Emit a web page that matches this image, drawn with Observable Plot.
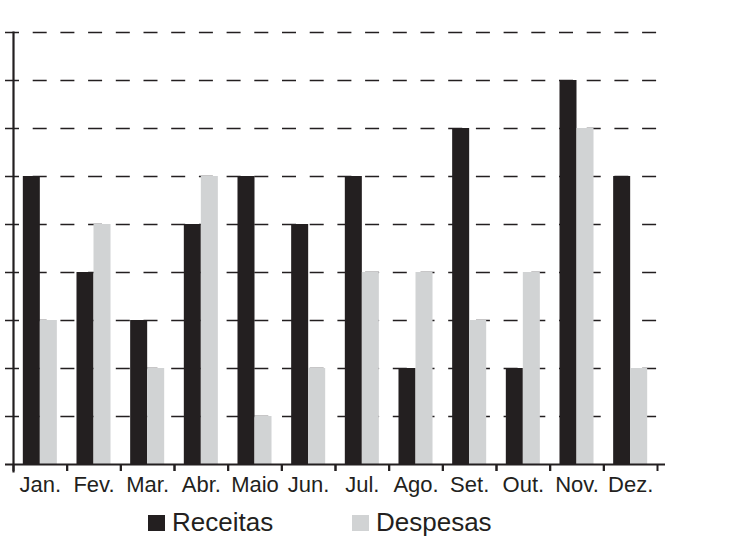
<!DOCTYPE html>
<html>
<head>
<meta charset="utf-8">
<script src="https://cdn.jsdelivr.net/npm/d3@7"></script>
<script src="https://cdn.jsdelivr.net/npm/@observablehq/plot@0.6"></script>
<style>
  body { margin: 0; background: #fff; font-family: "Liberation Sans", Arial, sans-serif; }
  #wrap { position: relative; width: 753px; height: 553px; }
  .leg { position: absolute; display: flex; align-items: center; font-size: 26px; color: #231f20; }
  .sw { width: 17px; height: 16px; margin-right: 7px; }
</style>
</head>
<body>
<div id="wrap">
  <div id="chart"></div>
  <div class="leg" style="left:148px; top:507px;"><span class="sw" style="background:#231f20"></span>Receitas</div>
  <div class="leg" style="left:352px; top:507px;"><span class="sw" style="background:#d1d3d4"></span>Despesas</div>
</div>
<script>
const months = ["Jan.", "Fev.", "Mar.", "Abr.", "Maio", "Jun.", "Jul.", "Ago.", "Set.", "Out.", "Nov.", "Dez."];
const receitas = [6, 4, 3, 5, 6, 5, 6, 2, 7, 2, 8, 6];
const despesas = [3, 5, 2, 6, 1, 2, 4, 4, 3, 4, 7, 2];
const gridValues = [1, 2, 3, 4, 5, 6, 7, 8, 9];

const recData = months.map((m, i) => ({month: m, value: receitas[i]}));
const desData = months.map((m, i) => ({month: m, value: despesas[i]}));

const marginLeft = 13, marginRight = 96, W = 753;
const step = (W - marginLeft - marginRight) / months.length;
const bw = step * 0.634;

const chart = Plot.plot({
  width: W,
  height: 500,
  marginLeft,
  marginRight,
  marginTop: 32,
  marginBottom: 36,
  style: {fontFamily: "Liberation Sans, Arial, sans-serif", fontSize: "22px", color: "#231f20", background: "#fff"},
  x: {domain: months, paddingInner: 0.366, paddingOuter: 0.183, round: false, axis: null, label: null},
  y: {domain: [0, 9], axis: null},
  marks: [
    Plot.gridY(gridValues, {stroke: "#231f20", strokeOpacity: 1, strokeWidth: 1.6, strokeDasharray: "14,13.7", insetLeft: -8, insetRight: -1}),
    Plot.barY(recData, {x: "month", y: "value", fill: "#231f20", insetRight: bw / 2}),
    Plot.barY(desData, {x: "month", y: "value", fill: "#d1d3d4", insetLeft: bw / 2}),
    Plot.ruleY([0], {stroke: "#231f20", strokeWidth: 2.2, insetLeft: -8, insetRight: -8}),
    Plot.frame({anchor: "left", stroke: "#231f20", strokeWidth: 2.2, insetBottom: -7}),
    Plot.axisX({tickSize: 7, tickFormat: () => "", label: null, dx: -step / 2, strokeWidth: 2, stroke: "#231f20"}),
    Plot.axisX({tickSize: 7, tickFormat: () => "", label: null, dx: step / 2, strokeWidth: 2, stroke: "#231f20"}),
    Plot.axisX({tickSize: 0, tickPadding: 12, label: null, fontSize: 22, fill: "#231f20"})
  ]
});
document.getElementById("chart").appendChild(chart);
</script>
</body>
</html>
